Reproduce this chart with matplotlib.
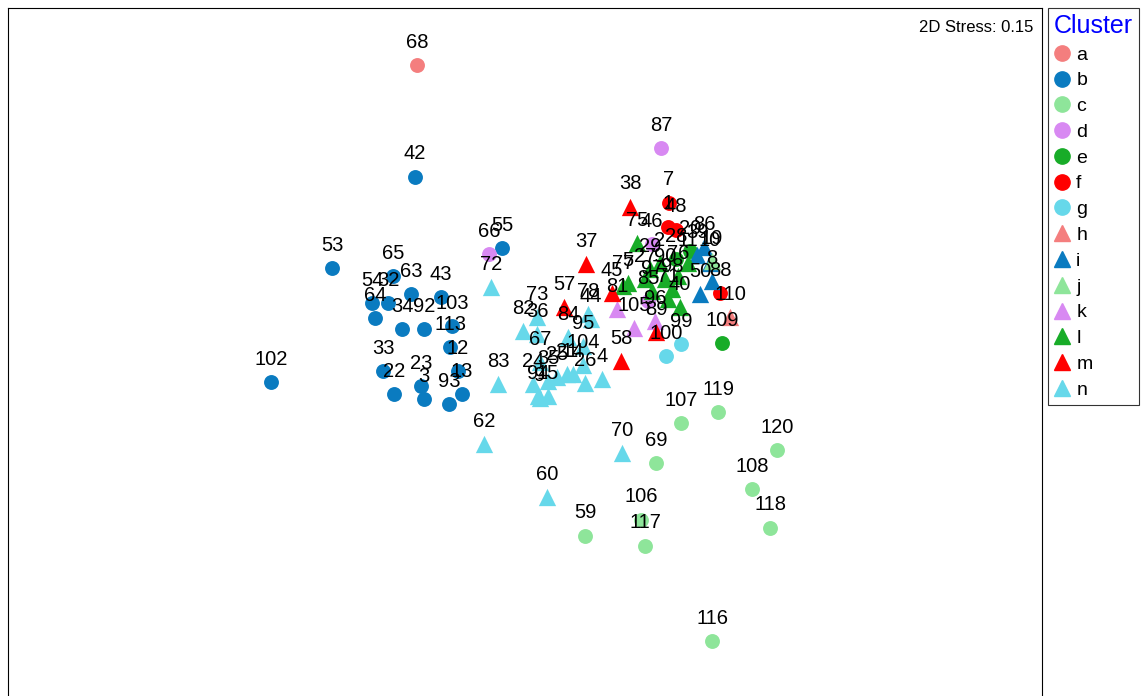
import matplotlib.pyplot as plt
from matplotlib.lines import Line2D

plt.rcParams['font.family'] = ['Liberation Sans', 'DejaVu Sans']

# NMDS site scores
site = ['68',
        '42', '53', '65', '54', '32', '63', '43', '64', '34', '92', '103', '113',
        '12', '33', '22', '23', '3', '93', '13', '102', '55',
        '107', '119', '120', '108', '118', '69', '106', '117', '59', '116',
        '66', '87', '46', '85',
        '109', '28', '20',
        '7', '48', '1', '88',
        '100', '99',
        '110',
        '86', '39', '10', '50', '8',
        '19',
        '105', '96', '81',
        '75', '27', '77', '29', '98', '40', '2', '90', '76', '11', '97', '5', '71',
        '38', '37', '57', '45', '58', '89',
        '72', '83', '62', '60', '70', '73', '82', '36', '78', '44', '84', '95',
        '67', '104', '25', '35', '21', '14', '4', '26', '24', '94', '9', '15']
cluster = ['a',
           'b', 'b', 'b', 'b', 'b', 'b', 'b', 'b', 'b', 'b', 'b', 'b',
           'b', 'b', 'b', 'b', 'b', 'b', 'b', 'b', 'b',
           'c', 'c', 'c', 'c', 'c', 'c', 'c', 'c', 'c', 'c',
           'd', 'd', 'd', 'd',
           'e', 'e', 'e',
           'f', 'f', 'f', 'f',
           'g', 'g',
           'h',
           'i', 'i', 'i', 'i', 'i',
           'j',
           'k', 'k', 'k',
           'l', 'l', 'l', 'l', 'l', 'l', 'l', 'l', 'l', 'l', 'l', 'l', 'l',
           'm', 'm', 'm', 'm', 'm', 'm',
           'n', 'n', 'n', 'n', 'n', 'n', 'n', 'n', 'n', 'n', 'n', 'n',
           'n', 'n', 'n', 'n', 'n', 'n', 'n', 'n', 'n', 'n', 'n', 'n']
nmds1 = [-0.83,
         -0.85, -1.68, -1.07, -1.28, -1.12, -0.89, -0.59, -1.25, -0.98, -0.76, -0.48, -0.50,
         -0.42, -1.17, -1.06, -0.79, -0.76, -0.51, -0.38, -2.29, 0.02,
         1.81, 2.18, 2.77, 2.52, 2.70, 1.56, 1.41, 1.45, 0.85, 2.12,
         -0.11, 1.61, 1.52, 1.48,
         2.22, 1.76, 1.90,
         1.69, 1.76, 1.68, 2.20,
         1.66, 1.81,
         2.30,
         2.04, 1.97, 2.10, 2.00, 2.12,
         2.12,
         1.34, 1.55, 1.17,
         1.37, 1.45, 1.23, 1.50, 1.72, 1.80, 1.60, 1.65, 1.78, 1.88, 1.52, 1.28, 1.68,
         1.30, 0.86, 0.64, 1.12, 1.21, 1.56,
         -0.09, -0.02, -0.16, 0.47, 1.22, 0.37, 0.23, 0.37, 0.88, 0.91, 0.68, 0.83,
         0.40, 0.83, 0.57, 0.48, 0.67, 0.73, 1.02, 0.85, 0.33, 0.38, 0.40, 0.48]
nmds2 = [2.85,
         1.74, 0.83, 0.75, 0.48, 0.48, 0.57, 0.54, 0.33, 0.22, 0.22, 0.25, 0.04,
         -0.20, -0.20, -0.43, -0.35, -0.48, -0.53, -0.43, -0.31, 1.03,
         -0.72, -0.61, -0.99, -1.38, -1.76, -1.12, -1.68, -1.94, -1.84, -2.89,
         0.97, 2.02, 1.07, 0.50,
         0.08, 0.92, 1.00,
         1.48, 1.21, 1.24, 0.58,
         -0.05, 0.07,
         0.34,
         1.04, 0.96, 0.88, 0.57, 0.70,
         0.90,
         0.23, 0.30, 0.42,
         1.08, 0.72, 0.65, 0.82, 0.62, 0.44, 0.88, 0.72, 0.75, 0.88, 0.60, 0.68, 0.52,
         1.44, 0.87, 0.44, 0.58, -0.10, 0.19,
         0.64, -0.33, -0.93, -1.46, -1.02, 0.34, 0.20, 0.17, 0.37, 0.32, 0.14, 0.05,
         -0.11, -0.14, -0.26, -0.30, -0.23, -0.23, -0.28, -0.32, -0.33, -0.45, -0.47, -0.45]

cluster_names = ['a', 'b', 'c', 'd', 'e', 'f', 'g', 'h', 'i', 'j', 'k', 'l', 'm', 'n']
cluster_colors = ['#F47E7E', '#0A7BC0', '#8EE59A', '#D889F2', '#18AC28', '#FF0000', '#66D8EA',
                  '#F47E7E', '#0A7BC0', '#8EE59A', '#D889F2', '#18AC28', '#FF0000', '#66D8EA']
cluster_shapes = ['o'] * 7 + ['^'] * 7
stress = 0.15

fig = plt.figure(figsize=(11.42, 6.96), dpi=100)
ax = fig.add_axes([8 / 1142, -0.003, 1034 / 1142, 1 - 8 / 696 + 0.003])

for name, col, shp in zip(cluster_names, cluster_colors, cluster_shapes):
    xs = [x for x, c in zip(nmds1, cluster) if c == name]
    ys = [y for y, c in zip(nmds2, cluster) if c == name]
    ax.scatter(xs, ys, c=col, marker=shp, s=115 if shp == 'o' else 155,
               linewidths=0, zorder=2)

# site labels on top of everything
for lab, x, y in zip(site, nmds1, nmds2):
    ax.annotate(lab, (x, y), xytext=(0, 9.5), textcoords='offset points',
                ha='center', va='bottom', fontsize=14.5, zorder=3)

ax.set_xlim(-4.92, 5.42)
ax.set_ylim(-3.46, 3.42)
ax.set_xticks([])
ax.set_yticks([])
for sp in ax.spines.values():
    sp.set_linewidth(0.8)

ax.text(0.992, 0.982, '2D Stress: %.2f' % stress, transform=ax.transAxes,
        ha='right', va='top', fontsize=12)

handles = [Line2D([], [], linestyle='none', marker=shp, color=col,
                  markersize=11 if shp == 'o' else 12)
           for col, shp in zip(cluster_colors, cluster_shapes)]
leg = fig.legend(handles, cluster_names, loc='upper left',
                 bbox_to_anchor=(1048 / 1142, 1 - 8 / 696), fontsize=14,
                 title='Cluster', title_fontsize=18, frameon=True, fancybox=False,
                 edgecolor='black', borderpad=0.3, labelspacing=0.42,
                 handlelength=0.85, handletextpad=0.3, borderaxespad=0,
                 alignment='left')
leg.get_title().set_color('blue')
leg.get_frame().set_linewidth(0.8)

fig.savefig('out.png', dpi=100)
